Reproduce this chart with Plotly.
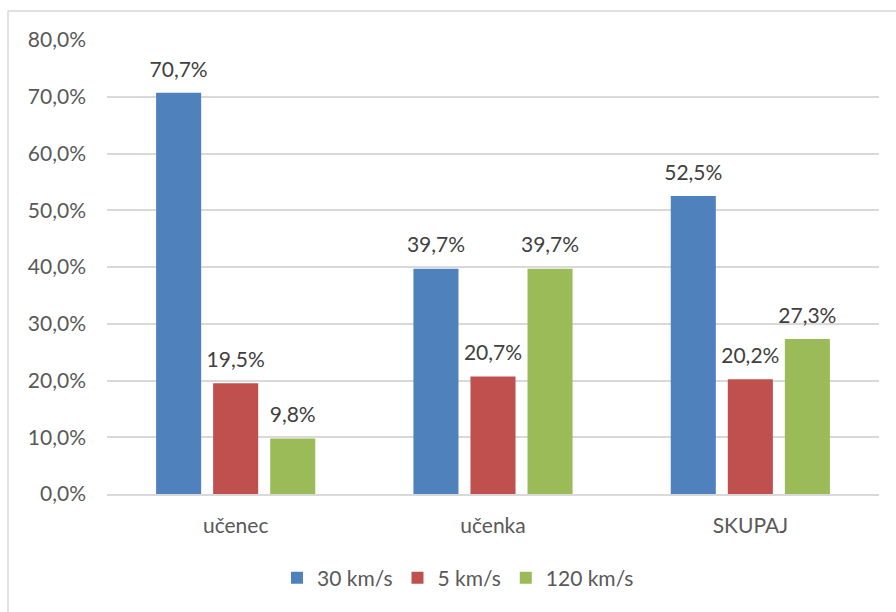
import plotly.graph_objects as go

categories = ["učenec", "učenka", "SKUPAJ"]
series_names = ["30 km/s", "5 km/s", "120 km/s"]
v30 = [70.7, 39.7, 52.5]
v5 = [19.5, 20.7, 20.2]
v120 = [9.8, 39.7, 27.3]
values = [v30, v5, v120]
colors = ["#4F81BD", "#C0504D", "#9BBB59"]
y_ticks = [0, 10, 20, 30, 40, 50, 60, 70, 80]

FONT = "Lato, Open Sans, sans-serif"
FS = 21
AXIS_GRAY = "#595959"
LABEL_GRAY = "#404040"

fig = go.Figure()

# bars
for name, vals, col in zip(series_names, values, colors):
    fig.add_trace(go.Bar(
        x=categories, y=vals, name=name,
        marker=dict(color=col, line=dict(width=0)),
        offsetgroup=name,
    ))

# value labels floating above each bar
for name, vals in zip(series_names, values):
    fig.add_trace(go.Scatter(
        x=categories, y=vals, mode="markers+text",
        marker=dict(size=16, opacity=0),
        text=[f"{v:.1f}%".replace(".", ",") for v in vals],
        textposition="top center",
        textfont=dict(family=FONT, size=FS, color=LABEL_GRAY),
        offsetgroup=name, showlegend=False, hoverinfo="skip",
        cliponaxis=False,
    ))

W, H = 896, 612
L, R, T, B = 107, 17, 40, 118
pw, ph = W - L - R, H - T - B

fig.update_layout(
    width=W, height=H,
    margin=dict(l=L, r=R, t=T, b=B),
    paper_bgcolor="white", plot_bgcolor="white",
    barmode="group", bargap=0.335, bargroupgap=0.21,
    scattermode="group", scattergap=0.335,
    separators=", ",
    font=dict(family=FONT, size=FS, color=AXIS_GRAY),
    showlegend=True,
    legend=dict(
        orientation="h", x=(458 - L) / pw, xanchor="center",
        y=(T + ph - 578) / ph, yanchor="middle",
        font=dict(family=FONT, size=FS, color=AXIS_GRAY),
        itemwidth=30, traceorder="normal",
    ),
    shapes=[dict(
        type="rect", xref="paper", yref="paper",
        x0=(8 - L) / pw, x1=(W + 10 - L) / pw,
        y0=-(H + 10 - T - ph) / ph, y1=(T + ph - 11) / ph,
        line=dict(color="#D9D9D9", width=1.5), fillcolor="rgba(0,0,0,0)",
        layer="below",
    )],
)

fig.update_yaxes(
    range=[0, 80], tickvals=y_ticks,
    ticktext=[f"{t:.1f}%".replace(".", ",") for t in y_ticks],
    showgrid=True, gridcolor="#D9D9D9", gridwidth=1.5,
    zeroline=False, showline=False, ticks="",
    ticklabelstandoff=20,
    tickfont=dict(family=FONT, size=FS, color=AXIS_GRAY),
)
fig.update_xaxes(
    showline=True, linecolor="#D9D9D9", linewidth=1.5,
    ticks="", ticklabelstandoff=12,
    tickfont=dict(family=FONT, size=FS, color=AXIS_GRAY),
)

fig.write_html("out.html")
